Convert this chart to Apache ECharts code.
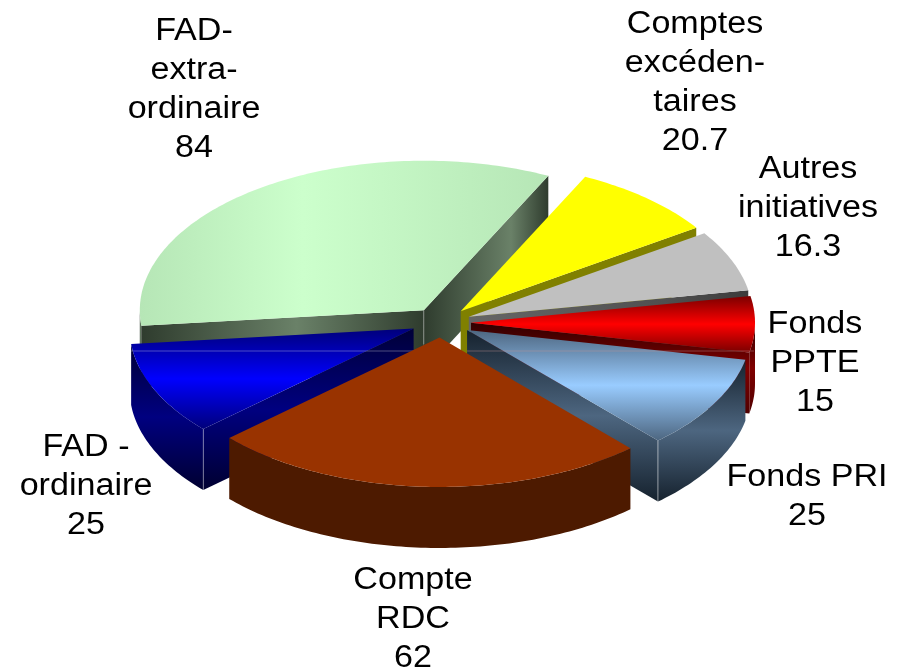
<!DOCTYPE html>
<html>
<head>
<meta charset="utf-8">
<title>Répartition</title>
<script src="https://cdn.jsdelivr.net/npm/echarts@6/dist/echarts.min.js"></script>
<style>
  html, body { margin: 0; padding: 0; background: #fff; }
  #chart { width: 909px; height: 670px; }
</style>
</head>
<body>
<div id="chart"></div>
<script>
// slices, clockwise from the top right
const categories = [
  "Comptes\nexcéden-\ntaires",
  "Autres\ninitiatives",
  "Fonds\nPPTE",
  "Fonds PRI",
  "Compte\nRDC",
  "FAD -\nordinaire",
  "FAD-\nextra-\nordinaire",
];
const values = [20.7, 16.3, 15, 25, 62, 25, 84];

// painter order, back to front
const drawOrder = [3, 4, 5, 7, 8, 6, 1];
// label centre (x, y)
const labelX = [695, 808, 815, 807, 413, 86, 194];
const labelY = [83, 208, 363, 497, 619, 486, 90];

const V = (a, b, c) => ({ dir: "v", stops: [a, b, c], mid: 0.5 });
const H = (a, b, c, mid) => ({ dir: "h", stops: [a, b, c], mid: mid });
const topFill = [
  "#ffff00",
  "#c0c0c0",
  V("#7a0000", "#ff0000", "#7a0000"),
  V("#4d6680", "#99ccff", "#4d6680"),
  "#993300",
  V("#00007a", "#0000ff", "#00007a"),
  H("#b6e6b6", "#ccffcc", "#b6e6b6", 0.4),
];
const wallFill = [
  "#808000",
  H("#666666", "#505050", "#3c3c3c", 0.5),
  V("#300000", "#800000", "#500000"),
  V("#16222e", "#4d6680", "#16222e"),
  "#4d1a00",
  V("#000038", "#000080", "#000030"),
  H("#2f3c2e", "#6a8168", "#2f3c2e", 0.55),
];
// which edge of a slice shows the thin light corner line
const cornerEdge = [null, null, null, "end", null, "start", "apex"];
const cornerAlpha = [0, 0, 0, 0.5, 0, 0.35, 0.35];

const cx = 441, cy = 322.5, rx = 284, ry = 149.5, depth = 61;
const explodeX = 30, explodeY = 15;
const startAngle = 26;
const seamY = 351;
const total = values.reduce((a, b) => a + b, 0);

function toFill(f, mid) {
  if (typeof f === "string") return f;
  const horizontal = f.dir === "h";
  return new echarts.graphic.LinearGradient(0, 0, horizontal ? 1 : 0, horizontal ? 0 : 1, [
    { offset: 0, color: f.stops[0] },
    { offset: mid || f.mid, color: f.stops[1] },
    { offset: 1, color: f.stops[2] },
  ]);
}

function renderSlice(params, api) {
  const i = params.dataIndex;
  const value = api.value(0);
  let before = 0;
  for (let k = 0; k < i; k++) before += values[k];
  const a1 = startAngle + (before / total) * 360;
  const a2 = a1 + (value / total) * 360;
  const mid = ((a1 + a2) / 2) * Math.PI / 180;
  const ox = cx + explodeX * Math.sin(mid);
  const oy = cy - explodeY * Math.cos(mid);
  const pt = (deg, dy) => {
    const t = deg * Math.PI / 180;
    return [ox + rx * Math.sin(t), oy - ry * Math.cos(t) + (dy || 0)];
  };
  const arc = (from, to, dy) => {
    const pts = [];
    const n = Math.max(2, Math.ceil(Math.abs(to - from)));
    for (let s = 0; s <= n; s++) pts.push(pt(from + ((to - from) * s) / n, dy));
    return pts;
  };
  const z = drawOrder[i] * 10;
  const children = [];
  const face = (edge, faceMid) => ({
    type: "polygon",
    z2: z,
    shape: { points: [[ox, oy], pt(edge), pt(edge, depth), [ox, oy + depth]] },
    style: { fill: toFill(wallFill[i], faceMid) },
  });
  // cut faces that look towards the viewer
  if (-Math.sin(a1 * Math.PI / 180) > 0) children.push(face(a1));
  if (Math.sin(a2 * Math.PI / 180) > 0) children.push(face(a2, wallFill[i].dir === "h" ? 0.7 : 0));
  // outer wall, front half only
  for (const shift of [0, 360]) {
    const from = Math.max(a1, 90 + shift);
    const to = Math.min(a2, 270 + shift);
    if (to > from) {
      children.push({
        type: "polygon",
        z2: z + 1,
        shape: { points: arc(from, to, 0).concat(arc(to, from, depth)) },
        style: { fill: toFill(wallFill[i]) },
      });
    }
  }
  children.push({
    type: "polygon",
    z2: z + 2,
    shape: { points: [[ox, oy]].concat(arc(a1, a2, 0)) },
    style: { fill: toFill(topFill[i]) },
  });
  // thin light lines left by the 3D shading
  const lineStyle = { stroke: "rgba(255,255,255," + cornerAlpha[i] + ")", lineWidth: 1 };
  if (cornerEdge[i]) {
    const top = cornerEdge[i] === "apex" ? [ox, oy] : pt(cornerEdge[i] === "end" ? a2 : a1);
    const len = cornerEdge[i] === "apex" ? 34 : depth;
    children.push({
      type: "line",
      z2: z + 3,
      shape: { x1: top[0], y1: top[1], x2: top[0], y2: top[1] + len },
      style: lineStyle,
    });
  }
  if (i === 5) {
    children.push({
      type: "line",
      z2: z + 3,
      shape: { x1: pt(a2)[0], y1: seamY, x2: ox, y2: seamY },
      style: { stroke: "rgba(255,255,255,0.3)", lineWidth: 1 },
    });
  }
  if (i === 3) {
    children.push({
      type: "line",
      z2: z + 3,
      shape: { x1: ox, y1: seamY, x2: cx + rx + 29, y2: seamY },
      style: { stroke: "rgba(200,150,150,0.4)", lineWidth: 1 },
    });
  }
  children.push({
    type: "text",
    z2: 200,
    x: labelX[i],
    y: labelY[i],
    scaleX: 1.1,
    style: {
      text: categories[i] + "\n" + value,
      fill: "#000",
      font: "31px 'Liberation Sans', Arial, sans-serif",
      lineHeight: 39,
      textAlign: "center",
      textVerticalAlign: "middle",
    },
  });
  return { type: "group", children };
}

const chart = echarts.init(document.getElementById("chart"));
chart.setOption({
  animation: false,
  backgroundColor: "#fff",
  series: [
    {
      type: "custom",
      coordinateSystem: "none",
      renderItem: renderSlice,
      data: values.map((v) => [v]),
    },
  ],
});
</script>
</body>
</html>
